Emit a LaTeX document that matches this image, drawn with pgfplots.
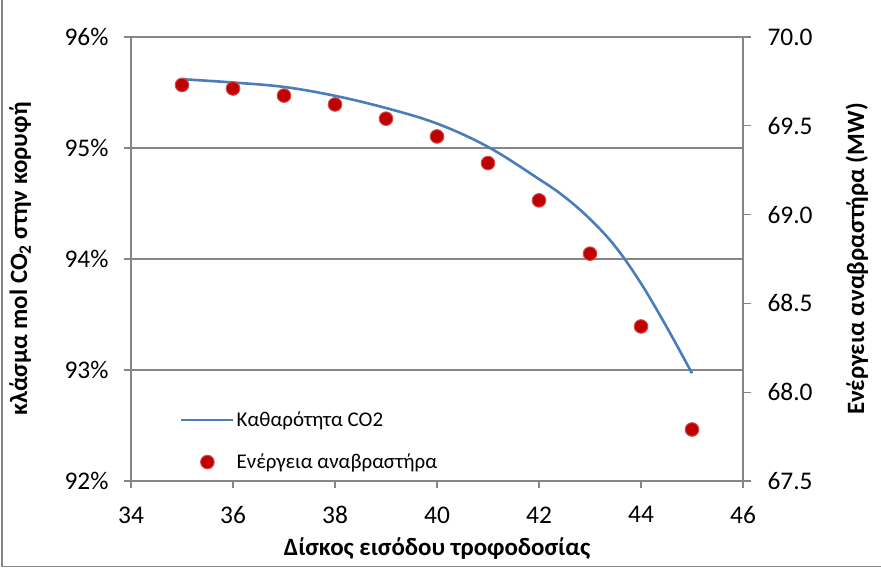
\documentclass[border=0pt]{standalone}
\usepackage{pgfplots}
\pgfplotsset{compat=1.18}
\usepackage{fontspec}
\setmainfont{Carlito}
\definecolor{purblue}{RGB}{74,126,187}
\definecolor{dotred}{RGB}{192,0,0}
\definecolor{axgray}{RGB}{134,134,134}
\begin{document}
\begin{tikzpicture}[x=1bp,y=1bp]
\draw[axgray, line width=1.5bp] (-129,481) -- (-129,-85.5) -- (750,-85.5);
\begin{axis}[
  at={(0,0)}, anchor=south west, scale only axis,
  width=612bp, height=444bp,
  xmin=34, xmax=46, ymin=92, ymax=96,
  xtick={34,36,...,46}, xticklabels={34,36,38,40,42,44,46},
  ytick={92,93,94,95,96}, yticklabels={92\%,93\%,94\%,95\%,96\%},
  xtick pos=lower, ytick pos=left, tick align=outside,
  major tick length=7bp,
  tick style={axgray, line width=1.2bp},
  axis line style={axgray, line width=1.5bp},
  ymajorgrids, grid style={axgray, line width=1.5bp},
  ticklabel style={font=\fontsize{25.5}{30}\selectfont},
  yticklabel style={xshift=-12bp},
  xticklabel style={yshift=-15bp},
  xlabel={\textbf{Δίσκος εισόδου τροφοδοσίας}},
  ylabel={\textbf{κλάσμα mol CO\textsubscript{2} στην κορυφή}},
  label style={font=\fontsize{25}{30}\selectfont},
  xlabel style={at={(axis description cs:0.5,-0.152)}, anchor=center},
  ylabel style={at={(axis description cs:-0.181,0.5)}, anchor=center},
]
\addplot[purblue, line width=2.6bp, smooth, tension=0.6] coordinates {
(35,95.62) (36,95.59) (37,95.55) (38,95.47) (39,95.36) (40,95.22)
(41,95.01) (42,94.72) (42.5,94.56) (43,94.36) (43.5,94.11) (44,93.78) (44.5,93.39) (45,92.97)};
\end{axis}
\begin{axis}[
  at={(0,0)}, anchor=south west, scale only axis,
  width=612bp, height=444bp,
  xmin=34, xmax=46, ymin=67.5, ymax=70,
  axis x line=none, axis y line*=right,
  ytick={67.5,68,68.5,69,69.5,70},
  yticklabels={67.5,68.0,68.5,69.0,69.5,70.0},
  tick align=outside, major tick length=8bp,
  tick style={axgray, line width=1.2bp},
  axis line style={axgray, line width=1.5bp},
  ticklabel style={font=\fontsize{25.5}{30}\selectfont},
  yticklabel style={xshift=13bp},
  ylabel={\textbf{Ενέργεια αναβραστήρα (MW)}},
  label style={font=\fontsize{25}{30}\selectfont},
  ylabel style={at={(axis description cs:1.186,0.5)}, anchor=center},
  legend style={draw=none, fill=none, at={(0.075,0.015)}, anchor=south west,
    row sep=22bp, font=\fontsize{21}{25}\selectfont, cells={anchor=west}},
  legend image code/.code={\draw[mark repeat=2,mark phase=2,#1] plot coordinates {(0bp,0bp) (26bp,0bp) (52bp,0bp)};},
]
\addlegendimage{purblue, line width=2.6bp}
\addlegendentry{Καθαρότητα CO2}
\addplot[only marks, mark=*, mark size=6.8bp, mark options={fill=dotred, draw=dotred!70!white, line width=1bp}] coordinates {
(35,69.73) (36,69.71) (37,69.67) (38,69.62) (39,69.54) (40,69.44)
(41,69.29) (42,69.08) (43,68.78) (44,68.37) (45,67.79)};
\addlegendentry{Ενέργεια αναβραστήρα}
\end{axis}
\pgfresetboundingbox
\path[use as bounding box] (-131,-88) rectangle (750,481);
\end{tikzpicture}
\end{document}
